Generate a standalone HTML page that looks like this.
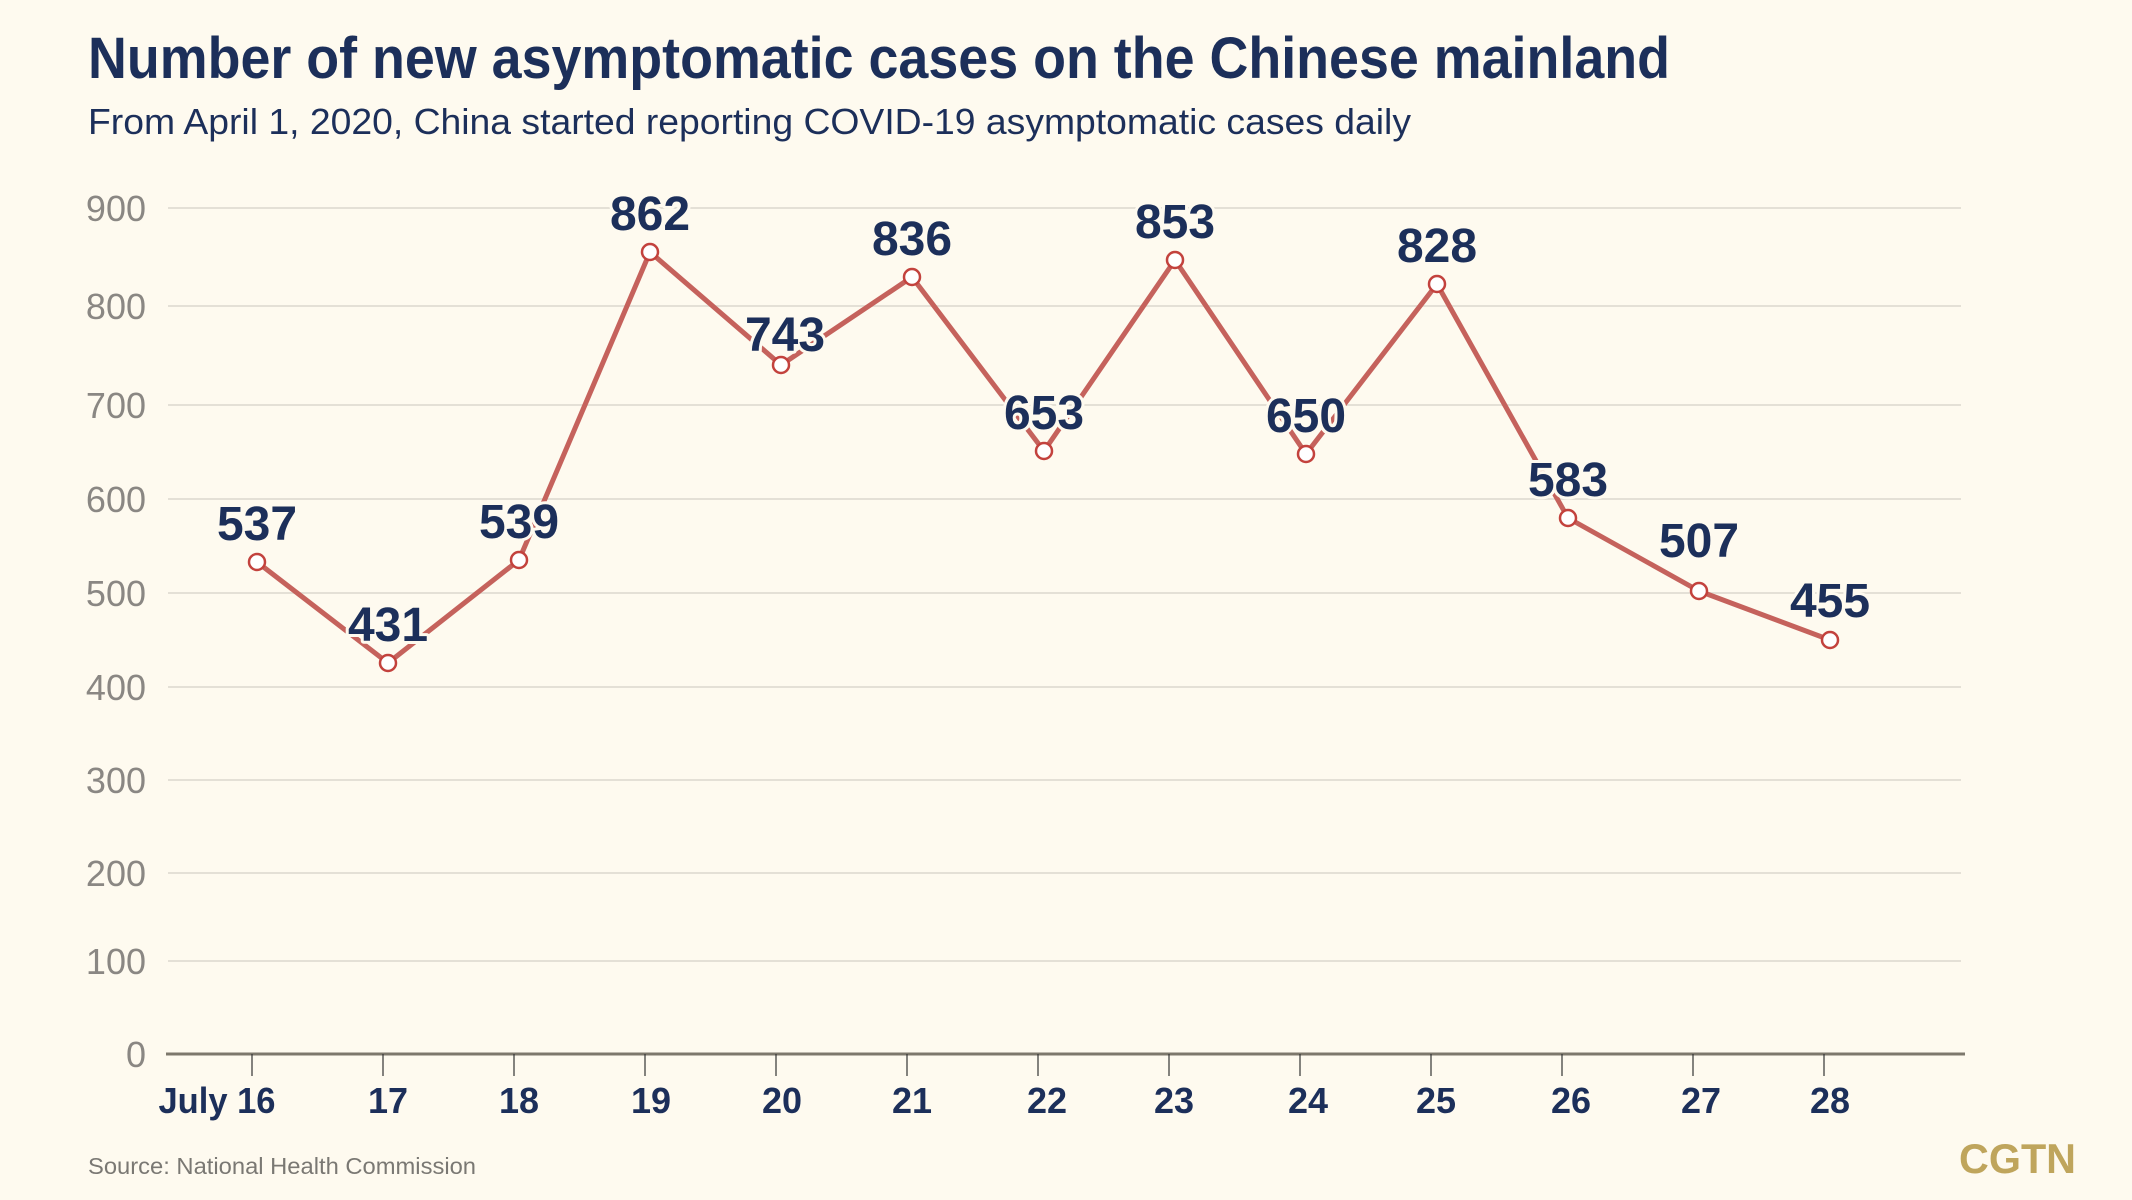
<!DOCTYPE html>
<html><head><meta charset="utf-8"><style>
html,body{margin:0;padding:0;background:#fefaef;}
svg{display:block;font-family:"Liberation Sans",sans-serif;}
</style></head><body>
<svg width="2132" height="1200" viewBox="0 0 2132 1200" xmlns="http://www.w3.org/2000/svg">
<rect width="2132" height="1200" fill="#fefaef"/>
<text x="88" y="78" font-size="58" font-weight="bold" fill="#1c2f5a" textLength="1582" lengthAdjust="spacingAndGlyphs">Number of new asymptomatic cases on the Chinese mainland</text>
<text x="88" y="134" font-size="36" fill="#1c2f5a" textLength="1323" lengthAdjust="spacingAndGlyphs">From April 1, 2020, China started reporting COVID-19 asymptomatic cases daily</text>
<g stroke="#e4e0d6" stroke-width="2">
<line x1="168" x2="1961" y1="208" y2="208"/><line x1="168" x2="1961" y1="306" y2="306"/>
<line x1="168" x2="1961" y1="405" y2="405"/><line x1="168" x2="1961" y1="499" y2="499"/>
<line x1="168" x2="1961" y1="593" y2="593"/><line x1="168" x2="1961" y1="687" y2="687"/>
<line x1="168" x2="1961" y1="780" y2="780"/><line x1="168" x2="1961" y1="873" y2="873"/>
<line x1="168" x2="1961" y1="961" y2="961"/>
</g>
<g font-size="36" fill="#8a8783" text-anchor="end">
<text x="146" y="221">900</text><text x="146" y="319">800</text><text x="146" y="418">700</text>
<text x="146" y="512">600</text><text x="146" y="606">500</text><text x="146" y="700">400</text>
<text x="146" y="793">300</text><text x="146" y="886">200</text><text x="146" y="974">100</text>
<text x="146" y="1067">0</text>
</g>
<line x1="166" x2="1965" y1="1054" y2="1054" stroke="#7d786c" stroke-width="3"/>
<g stroke="#333" stroke-width="1.2">
<line x1="252" x2="252" y1="1054" y2="1076"/><line x1="383" x2="383" y1="1054" y2="1076"/>
<line x1="514" x2="514" y1="1054" y2="1076"/><line x1="645" x2="645" y1="1054" y2="1076"/>
<line x1="776" x2="776" y1="1054" y2="1076"/><line x1="907" x2="907" y1="1054" y2="1076"/>
<line x1="1038" x2="1038" y1="1054" y2="1076"/><line x1="1169" x2="1169" y1="1054" y2="1076"/>
<line x1="1300" x2="1300" y1="1054" y2="1076"/><line x1="1431" x2="1431" y1="1054" y2="1076"/>
<line x1="1562" x2="1562" y1="1054" y2="1076"/><line x1="1693" x2="1693" y1="1054" y2="1076"/>
<line x1="1824" x2="1824" y1="1054" y2="1076"/>
</g>
<g font-size="36" font-weight="bold" fill="#1c2f5a" text-anchor="middle">
<text x="217" y="1113" textLength="117" lengthAdjust="spacingAndGlyphs">July 16</text>
<text x="388" y="1113">17</text><text x="519" y="1113">18</text><text x="651" y="1113">19</text>
<text x="782" y="1113">20</text><text x="912" y="1113">21</text><text x="1047" y="1113">22</text>
<text x="1174" y="1113">23</text><text x="1308" y="1113">24</text><text x="1436" y="1113">25</text>
<text x="1571" y="1113">26</text><text x="1701" y="1113">27</text><text x="1830" y="1113">28</text>
</g>
<polyline fill="none" stroke="#c5625c" stroke-width="5" stroke-linejoin="round" points="257,562 388,663 519,560 650,252 781,365 912,277 1044,451 1175,260 1306,454 1437,284 1568,518 1699,591 1830,640"/>
<g font-size="48" font-weight="bold" fill="#1c2f5a" text-anchor="middle" stroke="#fefaef" stroke-width="6" paint-order="stroke" stroke-linejoin="round">
<text x="257" y="540">537</text><text x="388" y="641">431</text><text x="519" y="538">539</text>
<text x="650" y="230">862</text><text x="785" y="351">743</text><text x="912" y="255">836</text>
<text x="1044" y="429">653</text><text x="1175" y="238">853</text><text x="1306" y="432">650</text>
<text x="1437" y="262">828</text><text x="1568" y="496">583</text><text x="1699" y="557">507</text>
<text x="1830" y="617">455</text>
</g>
<g fill="#fff" stroke="#c3423d" stroke-width="2.5">
<circle cx="257" cy="562" r="8"/><circle cx="388" cy="663" r="8"/><circle cx="519" cy="560" r="8"/>
<circle cx="650" cy="252" r="8"/><circle cx="781" cy="365" r="8"/><circle cx="912" cy="277" r="8"/>
<circle cx="1044" cy="451" r="8"/><circle cx="1175" cy="260" r="8"/><circle cx="1306" cy="454" r="8"/>
<circle cx="1437" cy="284" r="8"/><circle cx="1568" cy="518" r="8"/><circle cx="1699" cy="591" r="8"/>
<circle cx="1830" cy="640" r="8"/>
</g>
<text x="88" y="1174" font-size="23" fill="#7a7873" textLength="388" lengthAdjust="spacingAndGlyphs">Source: National Health Commission</text>
<text x="1959" y="1173" font-size="42" font-weight="bold" fill="#bfa55c" textLength="117" lengthAdjust="spacingAndGlyphs">CGTN</text>
</svg>
</body></html>
